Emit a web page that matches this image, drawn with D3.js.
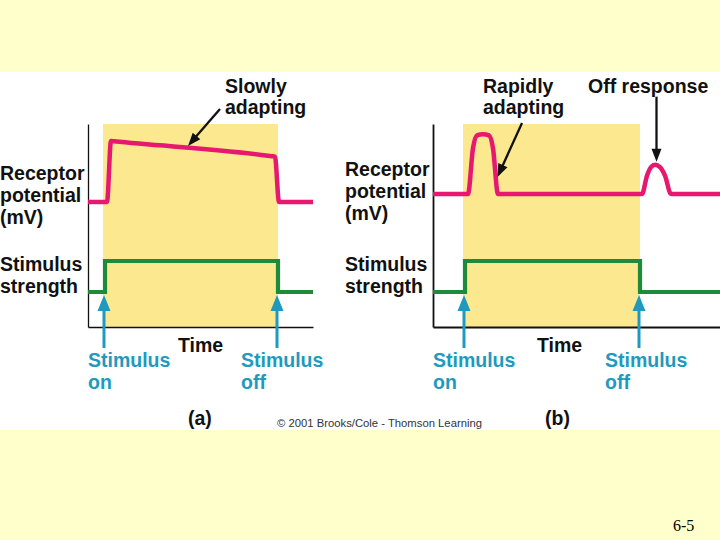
<!DOCTYPE html>
<html><head><meta charset="utf-8">
<script src="https://cdn.jsdelivr.net/npm/d3@7"></script>
<style>body{margin:0;background:#FFFFCC}svg{display:block}</style>
</head><body><svg id="c" width="720" height="540"></svg>
<script>
// ---------- DATA ----------
// Panel (a): slowly adapting receptor (time in arbitrary ms units)
const slowTime        = [0, 19, 23, 26, 184, 187, 191, 225];
const slowPotential   = [0, 0, 100, 99.5, 75, 74.3, 0, 0];
const slowStimTime    = [0, 17, 190, 225];
const slowStimulus    = [0, 1, 0, 0];
const slowStimOnOff   = [17, 190];

// Panel (b): rapidly adapting receptor with off response
const rapidTime       = [0, 35, 40, 44, 50, 56, 60, 65, 209, 214, 218, 222, 227, 232, 238, 287];
const rapidPotential  = [0, 0, 75, 96, 98, 96, 75, 0, 0, 30, 44, 48, 44, 30, 0, 0];
const rapidStimTime   = [0, 32, 207, 287];
const rapidStimulus   = [0, 1, 0, 0];
const rapidStimOnOff  = [32, 207];

// Text labels
const yLabelPotential = ["Receptor", "potential", "(mV)"];
const yLabelStimulus  = ["Stimulus", "strength"];
const xLabel          = "Time";
const stimOnLabel     = ["Stimulus", "on"];
const stimOffLabel    = ["Stimulus", "off"];
const panelLabels     = ["(a)", "(b)"];
const slowAnnot       = ["Slowly", "adapting"];
const rapidAnnot      = ["Rapidly", "adapting"];
const offAnnot        = ["Off response"];
const copyright       = "\u00A9 2001 Brooks/Cole - Thomson Learning";
const slideNumber     = "6-5";

// ---------- STYLE ----------
const C = {
  slide: "#FFFFCC", band: "#FFFFFF", fill: "#FBE88F",
  pink: "#E6186F", green: "#1D8B3A", blue: "#1E9AC0", ink: "#111111"
};
const FONT = "'Liberation Sans', Arial, Helvetica, sans-serif";
const FS = 19.5;

const svg = d3.select("#c");
svg.append("rect").attr("width", 720).attr("height", 540).attr("fill", C.slide);
svg.append("rect").attr("x", 0).attr("y", 72).attr("width", 720).attr("height", 358).attr("fill", C.band);

function arrowHead(g, tipX, tipY, angle, len, half, color) {
  const ca = Math.cos(angle), sa = Math.sin(angle);
  const bx = tipX - ca * len, by = tipY - sa * len;
  const px = -sa * half, py = ca * half;
  g.append("path")
    .attr("d", `M${tipX},${tipY}L${bx + px},${by + py}L${bx - px},${by - py}Z`)
    .attr("fill", color);
}

function textLines(g, lines, x, y0, dy, color) {
  lines.forEach((t, i) => {
    g.append("text").attr("x", x).attr("y", y0 + i * dy)
      .attr("font-family", FONT).attr("font-weight", "bold").attr("font-size", FS)
      .attr("fill", color).text(t);
  });
}

function panel(cfg) {
  const g = svg.append("g");
  const x = d3.scaleLinear().domain(cfg.tDomain).range(cfg.xRange);
  const yPot = d3.scaleLinear().domain([0, 100]).range(cfg.potRange);
  const yStim = d3.scaleLinear().domain([0, 1]).range([292, 261]);
  const yFrame = d3.scaleLinear().domain([0, 1]).range([327, 124]);

  g.append("rect")
    .attr("x", x(cfg.onOff[0]) - 2).attr("y", yFrame(1))
    .attr("width", x(cfg.onOff[1]) - x(cfg.onOff[0]) + 2)
    .attr("height", yFrame(0) - yFrame(1))
    .attr("fill", C.fill);

  const ax = g.append("g").attr("transform", `translate(0,${yFrame(0)})`)
    .call(d3.axisBottom(x).tickValues([]).tickSizeOuter(0));
  const ay = g.append("g").attr("transform", `translate(${cfg.xRange[0]},0)`)
    .call(d3.axisLeft(yFrame).tickValues([]).tickSizeOuter(0));
  [ax, ay].forEach(a => a.select(".domain").attr("stroke", C.ink).attr("stroke-width", cfg.axisW));

  const potData = cfg.potT.map((t, i) => [t, cfg.potV[i]]);
  g.append("path").datum(potData)
    .attr("d", d3.line().x(d => x(d[0])).y(d => yPot(d[1])).curve(d3.curveMonotoneX))
    .attr("fill", "none").attr("stroke", C.pink).attr("stroke-width", 4.5)
    .attr("stroke-linejoin", "round").attr("stroke-linecap", "butt");

  const stimData = cfg.stimT.map((t, i) => [t, cfg.stimV[i]]);
  g.append("path").datum(stimData)
    .attr("d", d3.line().x(d => x(d[0])).y(d => yStim(d[1])).curve(d3.curveStepAfter))
    .attr("fill", "none").attr("stroke", C.green).attr("stroke-width", 4.2)
    .attr("stroke-linejoin", "miter");

  cfg.onOff.forEach(t => {
    const ax0 = x(t) - 1;
    g.append("line").attr("x1", ax0).attr("x2", ax0).attr("y1", 348).attr("y2", 308)
      .attr("stroke", C.blue).attr("stroke-width", 3);
    arrowHead(g, ax0, 295, -Math.PI / 2, 16, 6.5, C.blue);
  });

  textLines(g, yLabelPotential, cfg.labelX, cfg.potLabelY, 22, C.ink);
  textLines(g, yLabelStimulus, cfg.labelX, 271, 22, C.ink);

  g.append("text").attr("x", cfg.timeX).attr("y", 352)
    .attr("font-family", FONT).attr("font-weight", "bold").attr("font-size", FS)
    .attr("fill", C.ink).text(xLabel);

  textLines(g, stimOnLabel, cfg.onTextX, 367, 22, C.blue);
  textLines(g, stimOffLabel, cfg.offTextX, 367, 22, C.blue);

  g.append("text").attr("x", cfg.panelX).attr("y", 425)
    .attr("font-family", FONT).attr("font-weight", "bold").attr("font-size", FS)
    .attr("fill", C.ink).text(cfg.panelLabel);

  cfg.annots.forEach(a => {
    textLines(g, a.text, a.textX, 93, 21, C.ink);
    const tx = x(a.tip[0]), ty = yPot(a.tip[1]);
    const sx = tx + a.tail[0], sy = ty + a.tail[1];
    const ang = Math.atan2(ty - sy, tx - sx);
    const hl = 13;
    g.append("line").attr("x1", sx).attr("y1", sy)
      .attr("x2", tx - Math.cos(ang) * (hl - 2)).attr("y2", ty - Math.sin(ang) * (hl - 2))
      .attr("stroke", C.ink).attr("stroke-width", 2.3);
    arrowHead(g, tx, ty, ang, hl, 5, C.ink);
  });
}

panel({
  tDomain: [0, 225], xRange: [88, 313], potRange: [202, 141], axisW: 1.3,
  potT: slowTime, potV: slowPotential, stimT: slowStimTime, stimV: slowStimulus,
  onOff: slowStimOnOff, labelX: 0, potLabelY: 180, timeX: 178,
  onTextX: 88, offTextX: 241, panelX: 188, panelLabel: panelLabels[0],
  annots: [{ text: slowAnnot, textX: 225, tip: [100, 92], tail: [32, -37] }]
});

panel({
  tDomain: [0, 287], xRange: [433, 720], potRange: [194, 133], axisW: 1.8,
  potT: rapidTime, potV: rapidPotential, stimT: rapidStimTime, stimV: rapidStimulus,
  onOff: rapidStimOnOff, labelX: 345, potLabelY: 176, timeX: 537,
  onTextX: 433, offTextX: 605, panelX: 545, panelLabel: panelLabels[1],
  annots: [
    { text: rapidAnnot, textX: 483, tip: [64.5, 28], tail: [24.5, -54] },
    { text: offAnnot, textX: 588, tip: [223.5, 53], tail: [0, -65] }
  ]
});

svg.append("text").attr("x", 277).attr("y", 427)
  .attr("font-family", FONT).attr("font-size", 10.5).attr("fill", "#333")
  .attr("textLength", 205).attr("lengthAdjust", "spacingAndGlyphs").text(copyright);

svg.append("text").attr("x", 673).attr("y", 531)
  .attr("font-family", "'Liberation Serif', 'Times New Roman', serif").attr("font-size", 16)
  .attr("fill", "#000").text(slideNumber);
</script></body></html>
